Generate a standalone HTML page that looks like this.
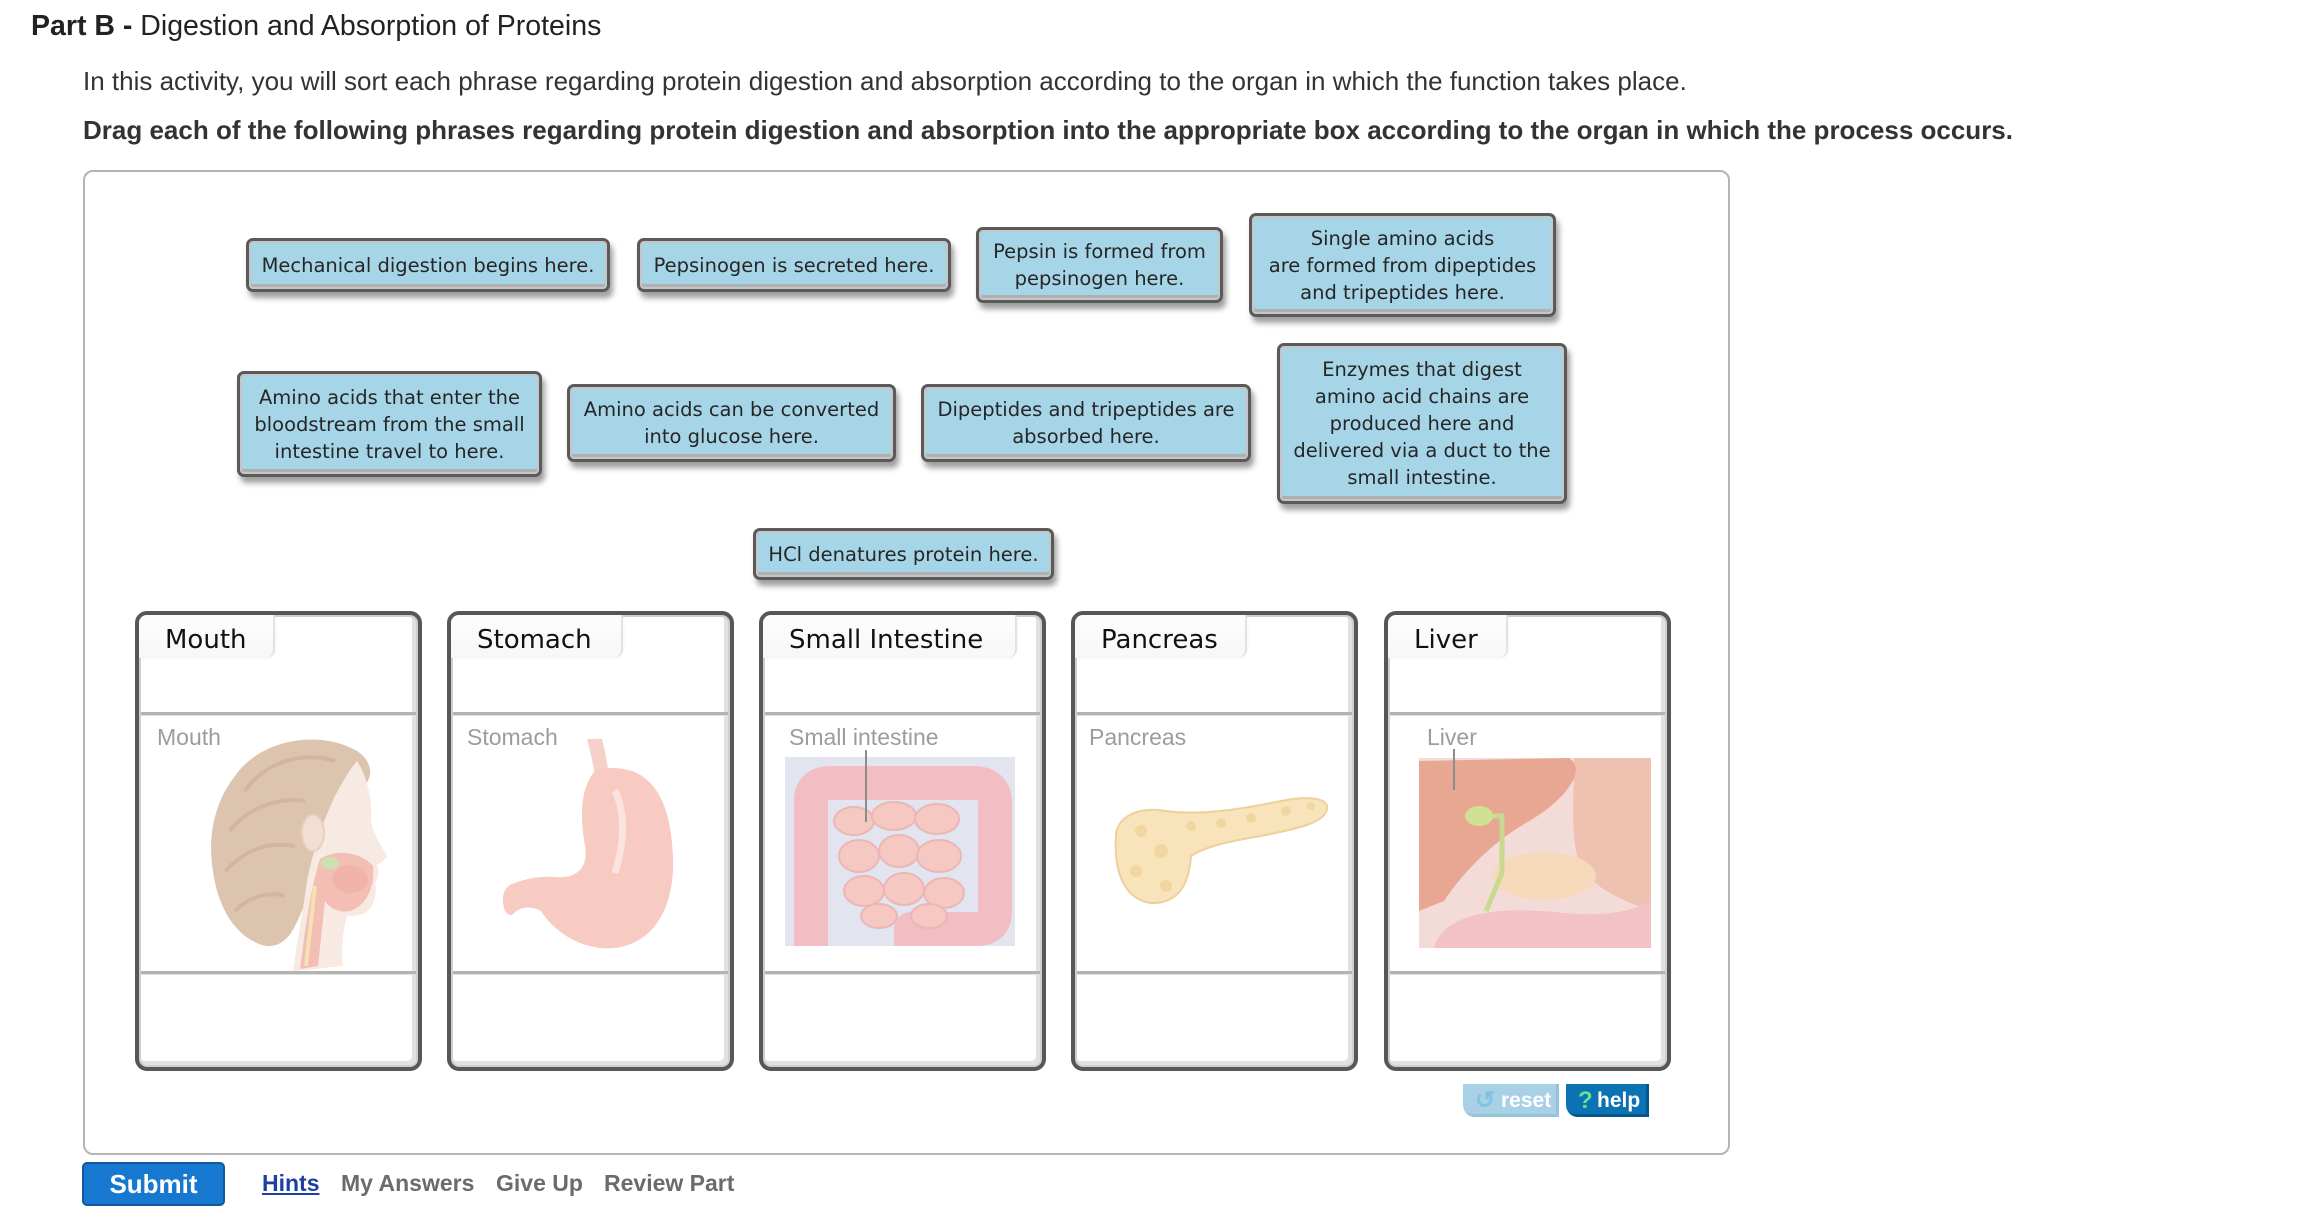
<!DOCTYPE html>
<html>
<head>
<meta charset="utf-8">
<style>
  html,body{margin:0;padding:0;}
  body{width:2300px;height:1220px;overflow:hidden;background:#fff;position:relative;font-family:"Liberation Sans",Arial,sans-serif;color:#222;}
  .abs{position:absolute;white-space:nowrap;}
  .title{left:31px;top:12px;font-size:28.5px;line-height:28px;color:#222;}
  .intro{left:83px;top:68px;font-size:26px;line-height:26px;color:#333;}
  .instr{left:83px;top:117px;font-size:26px;line-height:26px;font-weight:bold;color:#333;}
  .frame{position:absolute;left:83px;top:170px;width:1643px;height:981px;border:2px solid #b4b4b4;border-radius:10px;}
  .lbl{position:absolute;box-sizing:border-box;background:#a6d5e8;border:3px solid #5a5a5a;border-radius:7px;
       box-shadow:inset 0 0 0 2px #c6c6c6, inset 0 -3px 0 2px #b0b0b0, 3px 6px 6px rgba(0,0,0,0.38);
       font-family:"DejaVu Sans",Verdana,sans-serif;font-size:19.5px;line-height:27px;color:#262626;
       display:flex;align-items:center;justify-content:center;text-align:center;white-space:nowrap;}
  .org{position:absolute;top:611px;width:287px;height:460px;}
  .org .fr{position:absolute;left:0;top:0;width:287px;height:460px;box-sizing:border-box;border:4px solid #575757;border-radius:12px;
       box-shadow:inset 0 0 0 2px #cfcfcf, inset -3px -3px 0 3px #e2e2e2;}
  .org .tab{position:absolute;left:4px;top:4px;height:43px;background:linear-gradient(#fdfdfd,#f7f7f7);border-right:2px solid #e2e2e2;border-bottom-right-radius:9px;border-top-left-radius:8px;box-shadow:1px 1px 2px rgba(0,0,0,0.04);}
  .org .hd{position:absolute;left:30px;top:16px;font-family:"DejaVu Sans",Verdana,sans-serif;font-size:26px;line-height:26px;color:#111;white-space:nowrap;}
  .org .ln{position:absolute;left:6px;width:275px;height:3px;background:#b3b3b3;border-bottom:1px solid #e0e0e0;}
  .org .cap{position:absolute;top:115px;font-size:23px;line-height:23px;color:#9c9c9c;white-space:nowrap;}
  .org svg{position:absolute;left:0;top:0;}
  .btn-reset{position:absolute;left:1463px;top:1084px;width:96px;height:33px;background:#a9d1e6;border-bottom-left-radius:12px;box-shadow:inset -3px -3px 0 #98c2da;color:#fff;font-weight:bold;font-size:21px;line-height:33px;}
  .btn-help{position:absolute;left:1566px;top:1084px;width:83px;height:33px;background:#0b72b3;border-bottom-left-radius:12px;box-shadow:inset -3px -3px 0 #08578a;color:#fff;font-weight:bold;font-size:21px;line-height:33px;}
  .submit{position:absolute;left:82px;top:1162px;width:143px;height:44px;box-sizing:border-box;background:#1778cf;border:2px solid #0e5a9c;border-radius:5px;color:#fff;font-weight:bold;font-size:26px;line-height:40px;text-align:center;}
  .lnk{position:absolute;top:1172px;font-size:23px;line-height:23px;font-weight:bold;color:#6b6b6b;white-space:nowrap;}
</style>
</head>
<body>

<div class="abs title"><b>Part B -</b> Digestion and Absorption of Proteins</div>
<div class="abs intro">In this activity, you will sort each phrase regarding protein digestion and absorption according to the organ in which the function takes place.</div>
<div class="abs instr">Drag each of the following phrases regarding protein digestion and absorption into the appropriate box according to the organ in which the process occurs.</div>

<div class="frame"></div>

<!-- draggable labels -->
<div class="lbl" style="left:246px;top:238px;width:364px;height:54px;">Mechanical digestion begins here.</div>
<div class="lbl" style="left:637px;top:238px;width:314px;height:54px;">Pepsinogen is secreted here.</div>
<div class="lbl" style="left:976px;top:227px;width:247px;height:76px;">Pepsin is formed from<br>pepsinogen here.</div>
<div class="lbl" style="left:1249px;top:213px;width:307px;height:104px;">Single amino acids<br>are formed from dipeptides<br>and tripeptides here.</div>
<div class="lbl" style="left:237px;top:371px;width:305px;height:106px;">Amino acids that enter the<br>bloodstream from the small<br>intestine travel to here.</div>
<div class="lbl" style="left:567px;top:384px;width:329px;height:78px;">Amino acids can be converted<br>into glucose here.</div>
<div class="lbl" style="left:921px;top:384px;width:330px;height:78px;">Dipeptides and tripeptides are<br>absorbed here.</div>
<div class="lbl" style="left:1277px;top:343px;width:290px;height:161px;">Enzymes that digest<br>amino acid chains are<br>produced here and<br>delivered via a duct to the<br>small intestine.</div>
<div class="lbl" style="left:753px;top:528px;width:301px;height:52px;">HCl denatures protein here.</div>

<!-- Mouth -->
<div class="org" style="left:135px;">
  <svg width="287" height="460" viewBox="0 0 287 460">
    <g opacity="0.85">
    <path d="M100 165 C125 128,185 118,222 140 C240 152,238 170,225 178 C205 185,195 200,190 222 C185 250,175 285,160 315 C150 335,135 340,118 330 C95 318,82 290,78 260 C72 225,80 190,100 165 Z" fill="#d6baa2"/>
    <path d="M110 180 C130 150,170 140,200 150 M95 220 C110 200,140 185,170 190 M90 260 C110 240,130 230,160 235 M100 300 C115 285,135 280,150 285" stroke="#c4a084" stroke-width="4" fill="none" opacity="0.6"/>
    <path d="M222 150 C232 165,238 190,236 212 C240 225,248 238,252 245 C250 250,244 252,242 254 C245 262,243 268,240 272 C242 280,240 290,236 296 C232 303,222 306,212 305 C208 320,206 335,208 355 L158 360 C162 330,168 300,172 270 C178 240,188 210,200 185 C208 170,215 158,222 150 Z" fill="#f6e7de"/>
    <ellipse cx="178" cy="222" rx="11" ry="18" fill="#f0d9cb" stroke="#e6c8b8" stroke-width="2"/>
    <path d="M185 248 C200 238,225 240,238 255 C240 275,232 295,215 300 C205 302,195 298,190 290 L183 355 L165 358 C170 320,175 280,185 248 Z" fill="#f2b4a9"/>
    <ellipse cx="215" cy="268" rx="18" ry="14" fill="#eea79b"/>
    <ellipse cx="195" cy="252" rx="9" ry="6" fill="#c2dca4"/>
    <path d="M180 275 L171 355" stroke="#f4dca6" stroke-width="4" fill="none"/>
    </g>
  </svg>
  <div class="fr"></div>
  <div class="tab" style="width:134px;"></div>
  <div class="hd">Mouth</div>
  <div class="ln" style="top:101px;"></div>
  <div class="ln" style="top:360px;"></div>
  <div class="cap" style="left:22px;">Mouth</div>
</div>

<!-- Stomach -->
<div class="org" style="left:447px;">
  <svg width="287" height="460" viewBox="0 0 287 460">
    <path d="M140 128 C143 140,146 152,148 165 L162 165 C160 150,158 140,155 128 Z" fill="#f6d0c9"/>
    <path d="M148 160 C135 175,132 200,138 235 C142 258,128 268,108 266 C92 265,78 268,68 272 C60 274,55 280,56 292 C57 302,62 306,66 303 C72 296,84 294,94 300 C110 325,140 340,168 337 C208 332,228 295,226 245 C224 200,212 170,185 160 C172 156,158 156,148 160 Z" fill="#f7cac2"/>
    <path d="M168 180 C178 200,178 230,168 262" stroke="#fbe4df" stroke-width="7" fill="none"/>
  </svg>
  <div class="fr"></div>
  <div class="tab" style="width:170px;"></div>
  <div class="hd">Stomach</div>
  <div class="ln" style="top:101px;"></div>
  <div class="ln" style="top:360px;"></div>
  <div class="cap" style="left:20px;">Stomach</div>
</div>

<!-- Small Intestine -->
<div class="org" style="left:759px;">
  <svg width="287" height="460" viewBox="0 0 287 460">
    <rect x="26" y="146" width="230" height="189" fill="#e2e4f0"/>
    <path d="M52 335 L52 190 Q52 172 72 172 L214 172 Q236 172 236 192 L236 300 Q236 318 218 318 L152 318 L152 335" stroke="#f2bdc3" stroke-width="34" fill="none" stroke-linejoin="round"/>
    <g fill="#f5c8c1" stroke="#ecb6b6" stroke-width="2">
      <ellipse cx="95" cy="210" rx="20" ry="14"/><ellipse cx="135" cy="205" rx="22" ry="14"/><ellipse cx="178" cy="208" rx="22" ry="15"/>
      <ellipse cx="100" cy="245" rx="20" ry="16"/><ellipse cx="140" cy="240" rx="20" ry="16"/><ellipse cx="180" cy="245" rx="22" ry="16"/>
      <ellipse cx="105" cy="280" rx="20" ry="15"/><ellipse cx="145" cy="278" rx="20" ry="16"/><ellipse cx="185" cy="282" rx="20" ry="15"/>
      <ellipse cx="120" cy="305" rx="18" ry="12"/><ellipse cx="170" cy="305" rx="18" ry="12"/>
    </g>
    <line x1="107" y1="139" x2="107" y2="211" stroke="#8c8c8c" stroke-width="2"/>
  </svg>
  <div class="fr"></div>
  <div class="tab" style="width:252px;"></div>
  <div class="hd">Small Intestine</div>
  <div class="ln" style="top:101px;"></div>
  <div class="ln" style="top:360px;"></div>
  <div class="cap" style="left:30px;">Small intestine</div>
</div>

<!-- Pancreas -->
<div class="org" style="left:1071px;">
  <svg width="287" height="460" viewBox="0 0 287 460">
    <path d="M45 225 C45 205,70 195,95 200 C130 205,170 198,210 190 C235 185,258 186,256 198 C254 212,225 218,190 225 C160 230,135 235,120 245 C118 270,110 290,85 292 C60 293,42 270,45 225 Z" fill="#f8e3ba" stroke="#eed09b" stroke-width="2"/>
    <g fill="#f1d39c" opacity="0.8">
      <circle cx="70" cy="220" r="6"/><circle cx="90" cy="240" r="7"/><circle cx="65" cy="260" r="6"/><circle cx="95" cy="275" r="6"/>
      <circle cx="120" cy="215" r="5"/><circle cx="150" cy="212" r="5"/><circle cx="180" cy="207" r="5"/><circle cx="215" cy="200" r="5"/><circle cx="240" cy="195" r="4"/>
    </g>
  </svg>
  <div class="fr"></div>
  <div class="tab" style="width:170px;"></div>
  <div class="hd">Pancreas</div>
  <div class="ln" style="top:101px;"></div>
  <div class="ln" style="top:360px;"></div>
  <div class="cap" style="left:18px;">Pancreas</div>
</div>

<!-- Liver -->
<div class="org" style="left:1384px;">
  <svg width="287" height="460" viewBox="0 0 287 460">
    <rect x="35" y="147" width="232" height="190" fill="#f3dcd8"/>
    <path d="M190 147 L267 147 L267 300 C240 290,215 280,200 260 C185 240,190 190,190 147 Z" fill="#efc1b1"/>
    <path d="M35 150 L185 147 C205 160,178 192,142 212 C110 230,80 260,60 290 L35 300 Z" fill="#e8a792"/>
    <ellipse cx="160" cy="265" rx="52" ry="24" fill="#f6d9bb"/>
    <path d="M50 337 C60 300,120 295,180 302 C220 306,250 300,267 290 L267 337 Z" fill="#f2c2c6"/>
    <path d="M104 205 L118 205 L118 262 L102 300" stroke="#c9da90" stroke-width="5" fill="none"/>
    <ellipse cx="95" cy="205" rx="14" ry="10" fill="#d0e194"/>
    <line x1="70" y1="138" x2="70" y2="179" stroke="#8c8c8c" stroke-width="2"/>
  </svg>
  <div class="fr"></div>
  <div class="tab" style="width:118px;"></div>
  <div class="hd">Liver</div>
  <div class="ln" style="top:101px;"></div>
  <div class="ln" style="top:360px;"></div>
  <div class="cap" style="left:43px;">Liver</div>
</div>

<!-- reset / help -->
<div class="btn-reset"><span style="position:absolute;left:12px;top:0;color:#7fc2e3;font-size:24px;">&#8634;</span><span style="position:absolute;left:38px;top:0;">reset</span></div>
<div class="btn-help"><span style="position:absolute;left:12px;top:0;color:#66e092;font-size:24px;">?</span><span style="position:absolute;left:31px;top:0;">help</span></div>

<!-- footer -->
<div class="submit">Submit</div>
<div class="lnk" style="left:262px;color:#1d3f9e;text-decoration:underline;">Hints</div>
<div class="lnk" style="left:341px;">My Answers</div>
<div class="lnk" style="left:496px;">Give Up</div>
<div class="lnk" style="left:604px;">Review Part</div>

</body>
</html>
